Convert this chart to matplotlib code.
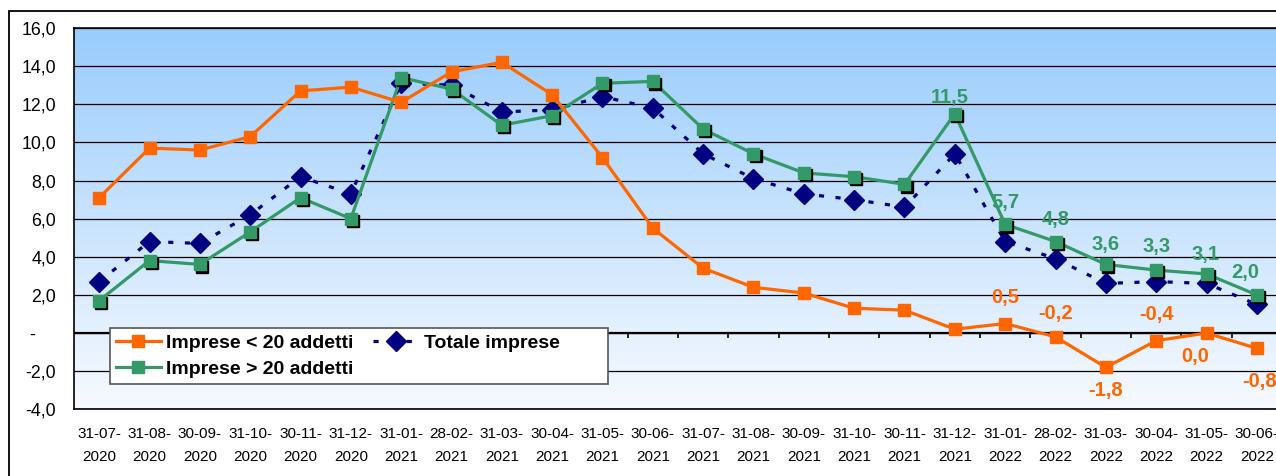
import numpy as np
import matplotlib
matplotlib.use("Agg")
import matplotlib.pyplot as plt
from matplotlib.patches import Rectangle
from matplotlib.lines import Line2D
from matplotlib.transforms import ScaledTranslation
from matplotlib.ticker import FuncFormatter

plt.rcParams['font.family'] = ['Liberation Sans', 'DejaVu Sans']

dates = ['31-07-\n2020', '31-08-\n2020', '30-09-\n2020', '31-10-\n2020', '30-11-\n2020', '31-12-\n2020',
         '31-01-\n2021', '28-02-\n2021', '31-03-\n2021', '30-04-\n2021', '31-05-\n2021', '30-06-\n2021',
         '31-07-\n2021', '31-08-\n2021', '30-09-\n2021', '31-10-\n2021', '30-11-\n2021', '31-12-\n2021',
         '31-01-\n2022', '28-02-\n2022', '31-03-\n2022', '30-04-\n2022', '31-05-\n2022', '30-06-\n2022']

small = [7.1, 9.7, 9.6, 10.3, 12.7, 12.9, 12.1, 13.7, 14.2, 12.5, 9.2, 5.5,
         3.4, 2.4, 2.1, 1.3, 1.2, 0.2, 0.5, -0.2, -1.8, -0.4, 0.0, -0.8]
large = [1.7, 3.8, 3.6, 5.3, 7.1, 6.0, 13.4, 12.8, 10.9, 11.4, 13.1, 13.2,
         10.7, 9.4, 8.4, 8.2, 7.8, 11.5, 5.7, 4.8, 3.6, 3.3, 3.1, 2.0]
total = [2.7, 4.8, 4.7, 6.2, 8.2, 7.3, 13.1, 13.0, 11.6, 11.7, 12.4, 11.8,
         9.4, 8.1, 7.3, 7.0, 6.6, 9.4, 4.8, 3.9, 2.6, 2.7, 2.6, 1.5]

ORANGE = '#FF6600'
GREEN = '#339966'
NAVY = '#000080'

fig = plt.figure(figsize=(12.76, 4.76), dpi=100)
W, H = 1276, 476
ax = fig.add_axes([74 / W, (H - 409.3) / H, (1282 - 74) / W, 381.3 / H])

x = np.arange(len(dates))
ax.set_xlim(-0.5, len(dates) - 0.5)

# gradient background, light at the bottom, blue at the top
grad = np.linspace(0, 1, 256).reshape(-1, 1, 1)
top = np.array([0.60, 0.80, 0.99])
bot = np.array([0.97, 0.98, 1.0])
img = bot * (1 - grad) + top * grad
ax.imshow(img, extent=(-0.5, len(dates) - 0.5, -4, 16), origin='lower', aspect='auto', zorder=0)
ax.set_ylim(-4, 16)

ax.set_yticks(np.arange(-4, 17, 2))
ax.yaxis.grid(True, color='black', lw=0.9, zorder=1)
ax.set_axisbelow(True)


def fmt(v, pos):
    if abs(v) < 1e-9:
        return '-\u2007\u2007'
    return f'{v:.1f}'.replace('.', ',')


ax.yaxis.set_major_formatter(FuncFormatter(fmt))
ax.tick_params(axis='y', length=0, pad=13, labelsize=12.8)
ax.set_xticks(x)
ax.set_xticklabels(dates, linespacing=1.8)
ax.tick_params(axis='x', length=0, pad=13, labelsize=11)
for s in ax.spines.values():
    s.set_color('black')
    s.set_linewidth(1.2)

# zero axis with category ticks
ax.axhline(0, color='black', lw=1.6, zorder=2)
ax.vlines(x[:-1] + 0.5, -0.27, 0, color='black', lw=1.2, zorder=2)

ax.plot(x, total, color=NAVY, lw=2.3, ls=(0, (1.6, 3.6)), marker='D', ms=10,
        markeredgecolor=NAVY, zorder=3)

shadow = ax.transData + ScaledTranslation(2.2 / 100, -2.2 / 100, fig.dpi_scale_trans)
ax.plot(x, large, color=GREEN, lw=2.3, zorder=4)
ax.plot(x, large, ls='none', marker='s', ms=8.5, color='black', transform=shadow, zorder=4)
ax.plot(x, large, ls='none', marker='s', ms=8.5, color=GREEN, zorder=4)
ax.plot(x, small, color=ORANGE, lw=2.3, marker='s', ms=8.5, zorder=5)

# legend
h_small = Line2D([], [], color=ORANGE, lw=2.3, marker='s', ms=8.5)
h_large = Line2D([], [], color=GREEN, lw=2.3, marker='s', ms=8.5)
h_total = Line2D([], [], color=NAVY, lw=2.3, ls=(0, (1.6, 3.6)), marker='D', ms=10)
leg = ax.legend([h_small, h_large, h_total],
                ['Imprese < 20 addetti', 'Imprese > 20 addetti', 'Totale imprese        '],
                ncol=2, loc='upper left', bbox_to_anchor=(0.0298, 0.213), borderaxespad=0,
                fancybox=False, framealpha=1, edgecolor='#555555',
                prop={'weight': 'bold', 'size': 14}, handlelength=2.3,
                handletextpad=0.3, columnspacing=1.0, labelspacing=0.45,
                borderpad=0.3)
leg.get_frame().set_linewidth(1.2)
leg.set_zorder(6)


def lab(v):
    return f'{v:.1f}'.replace('.', ',')


green_lab = {17: (-4, 12), 18: (0, 16), 19: (0, 16), 20: (0, 14), 21: (0, 17), 22: (-1, 14), 23: (-8, 16)}
for i, (dx, dy) in green_lab.items():
    ax.annotate(lab(large[i]), (x[i], large[i]), xytext=(dx, dy), textcoords='offset points',
                ha='center', va='center', color=GREEN, fontsize=14.5, fontweight='bold', zorder=7)

orange_lab = {18: (0, 19), 19: (0, 17), 20: (0, -17), 21: (0, 19), 22: (-8, -17), 23: (2, -24)}
for i, (dx, dy) in orange_lab.items():
    ax.annotate(lab(small[i]), (x[i], small[i]), xytext=(dx, dy), textcoords='offset points',
                ha='center', va='center', color=ORANGE, fontsize=14.5, fontweight='bold', zorder=7)

# outer frame of the chart area
fig.patches.append(Rectangle((9 / W, -0.1), 1.2, 1 - 11 / H + 0.1, transform=fig.transFigure,
                             fill=False, edgecolor='black', lw=1.3))

fig.savefig('out.png', dpi=100)
